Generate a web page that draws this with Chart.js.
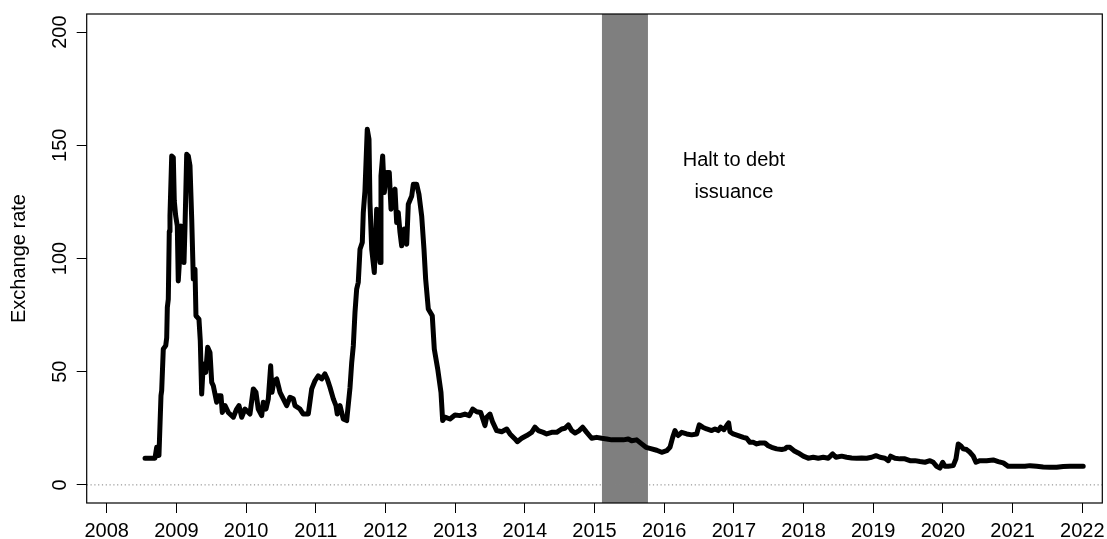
<!DOCTYPE html>
<html>
<head>
<meta charset="utf-8">
<script src="https://cdn.jsdelivr.net/npm/chart.js"></script>
<style>
  html, body { margin: 0; padding: 0; background: #ffffff; }
  #wrap { width: 1107px; height: 539px; }
</style>
</head>
<body>
<div id="wrap"><canvas id="fx" width="1107" height="539"></canvas></div>
<script>
// Exchange rate series (decimal year, rate)
const years = [
  2008.550, 2008.693, 2008.717, 2008.750, 2008.779, 2008.789, 2008.812, 2008.847, 2008.861, 2008.870,
  2008.884, 2008.898, 2008.908, 2008.933, 2008.956, 2008.970, 2008.990, 2009.013, 2009.027, 2009.052,
  2009.066, 2009.085, 2009.109, 2009.124, 2009.148, 2009.171, 2009.195, 2009.220, 2009.243, 2009.267,
  2009.281, 2009.324, 2009.343, 2009.363, 2009.386, 2009.421, 2009.449, 2009.482, 2009.507, 2009.530,
  2009.578, 2009.601, 2009.640, 2009.659, 2009.698, 2009.745, 2009.817, 2009.865, 2009.898, 2009.937,
  2009.984, 2010.056, 2010.104, 2010.142, 2010.175, 2010.224, 2010.247, 2010.286, 2010.319, 2010.353,
  2010.372, 2010.401, 2010.439, 2010.487, 2010.534, 2010.583, 2010.630, 2010.678, 2010.702, 2010.774,
  2010.821, 2010.893, 2010.942, 2010.989, 2011.036, 2011.085, 2011.132, 2011.165, 2011.204, 2011.252,
  2011.290, 2011.309, 2011.348, 2011.395, 2011.444, 2011.491, 2011.516, 2011.539, 2011.563, 2011.587,
  2011.610, 2011.635, 2011.668, 2011.682, 2011.706, 2011.739, 2011.764, 2011.778, 2011.803, 2011.840,
  2011.874, 2011.897, 2011.922, 2011.936, 2011.960, 2011.983, 2012.018, 2012.055, 2012.080, 2012.113,
  2012.137, 2012.161, 2012.184, 2012.209, 2012.233, 2012.270, 2012.305, 2012.328, 2012.377, 2012.400,
  2012.448, 2012.481, 2012.520, 2012.553, 2012.577, 2012.615, 2012.672, 2012.701, 2012.750, 2012.797,
  2012.821, 2012.854, 2012.926, 2012.998, 2013.070, 2013.141, 2013.203, 2013.252, 2013.309, 2013.367,
  2013.428, 2013.453, 2013.500, 2013.539, 2013.596, 2013.668, 2013.740, 2013.787, 2013.859, 2013.892,
  2013.955, 2014.027, 2014.098, 2014.146, 2014.193, 2014.265, 2014.314, 2014.385, 2014.457, 2014.529,
  2014.576, 2014.624, 2014.672, 2014.720, 2014.781, 2014.830, 2014.888, 2014.959, 2015.031, 2015.103,
  2015.175, 2015.246, 2015.318, 2015.413, 2015.485, 2015.533, 2015.605, 2015.677, 2015.739, 2015.820,
  2015.892, 2015.964, 2016.036, 2016.083, 2016.122, 2016.155, 2016.179, 2016.202, 2016.251, 2016.323,
  2016.394, 2016.466, 2016.503, 2016.552, 2016.610, 2016.681, 2016.729, 2016.776, 2016.810, 2016.858,
  2016.897, 2016.925, 2016.944, 2016.991, 2017.063, 2017.135, 2017.183, 2017.231, 2017.278, 2017.327,
  2017.374, 2017.446, 2017.493, 2017.542, 2017.614, 2017.686, 2017.733, 2017.758, 2017.805, 2017.862,
  2017.924, 2017.996, 2018.067, 2018.139, 2018.211, 2018.283, 2018.354, 2018.418, 2018.465, 2018.547,
  2018.618, 2018.690, 2018.762, 2018.834, 2018.905, 2018.977, 2019.039, 2019.097, 2019.168, 2019.216,
  2019.250, 2019.312, 2019.383, 2019.455, 2019.527, 2019.599, 2019.670, 2019.742, 2019.814, 2019.861,
  2019.910, 2019.957, 2019.996, 2020.029, 2020.076, 2020.148, 2020.187, 2020.220, 2020.254, 2020.292,
  2020.340, 2020.388, 2020.435, 2020.474, 2020.531, 2020.627, 2020.722, 2020.794, 2020.866, 2020.937,
  2021.009, 2021.105, 2021.177, 2021.249, 2021.345, 2021.439, 2021.536, 2021.632, 2021.726, 2021.823,
  2021.919, 2022.013
];
const rates = [
  11.8, 11.8, 16.6, 13.0, 39.4, 41.6, 60.0, 61.5, 65.0, 78.4,
  82.0, 112.0, 118.8, 145.3, 144.6, 125.4, 118.8, 114.4, 90.1, 102.7,
  114.4, 113.0, 98.2, 114.4, 146.0, 145.3, 141.0, 117.4, 90.9, 95.3,
  74.7, 73.2, 63.7, 40.1, 53.4, 49.7, 60.8, 58.5, 45.3, 43.8,
  36.5, 39.4, 39.4, 32.0, 35.0, 32.0, 29.9, 33.5, 35.0, 29.9,
  33.5, 31.3, 42.4, 40.9, 33.5, 30.6, 36.5, 33.5, 38.0, 52.6,
  40.9, 46.0, 46.8, 40.9, 38.0, 35.0, 38.7, 38.0, 35.0, 33.5,
  31.3, 31.3, 42.4, 46.0, 48.2, 46.8, 49.0, 46.8, 43.1, 38.0,
  35.0, 31.3, 35.0, 29.1, 28.4, 42.8, 54.1, 61.5, 76.2, 86.5,
  89.4, 104.1, 107.1, 120.3, 129.8, 157.1, 152.7, 124.7, 104.1, 93.8,
  121.8, 107.1, 98.2, 136.5, 145.3, 129.1, 138.0, 138.0, 121.8, 129.1,
  130.6, 115.9, 120.3, 111.5, 105.6, 113.0, 106.3, 124.0, 127.6, 132.8,
  132.8, 128.4, 118.8, 104.1, 90.9, 77.7, 74.7, 60.0, 51.2, 40.9,
  28.4, 29.9, 29.1, 30.9, 30.6, 31.3, 30.6, 33.5, 32.3, 32.0,
  26.2, 29.9, 31.3, 27.7, 24.0, 23.5, 24.7, 22.5, 20.3, 19.1,
  20.6, 21.8, 23.2, 25.5, 24.0, 23.2, 22.5, 23.2, 23.2, 24.7,
  25.0, 26.5, 24.0, 22.9, 24.0, 25.5, 23.2, 20.6, 21.0, 20.6,
  20.3, 19.9, 19.9, 19.9, 20.3, 19.5, 19.9, 18.1, 16.6, 15.9,
  15.3, 14.4, 15.1, 16.6, 21.0, 24.0, 22.5, 21.8, 23.2, 22.5,
  22.1, 22.5, 26.5, 25.5, 24.7, 24.0, 24.7, 24.0, 25.5, 24.4,
  26.2, 27.4, 23.5, 22.5, 21.8, 21.0, 20.6, 18.8, 18.8, 18.1,
  18.5, 18.5, 17.3, 16.6, 15.9, 15.6, 15.9, 16.6, 16.6, 15.1,
  14.1, 12.7, 11.8, 12.2, 11.8, 12.2, 11.8, 13.7, 12.2, 12.7,
  12.2, 11.9, 11.8, 11.9, 11.8, 12.2, 12.9, 12.2, 11.8, 10.7,
  12.7, 11.8, 11.5, 11.5, 10.7, 10.7, 10.3, 10.0, 10.7, 10.0,
  8.2, 7.4, 10.0, 8.2, 8.2, 8.5, 11.5, 18.1, 17.3, 15.9,
  15.6, 14.4, 12.7, 10.0, 10.7, 10.7, 11.0, 10.3, 9.7, 8.2,
  8.2, 8.2, 8.2, 8.5, 8.2, 7.9, 7.8, 7.8, 8.1, 8.2,
  8.2, 8.2
];

// Axis ticks
const xTickYears = [2008, 2009, 2010, 2011, 2012, 2013, 2014, 2015, 2016, 2017, 2018, 2019, 2020, 2021, 2022];
const yTickValues = [0, 50, 100, 150, 200];

// Period with no new debt issued, and its note
const haltStart = 2015.107;
const haltEnd = 2015.767;
const noteYear = 2017;
const noteRate = 135;
const noteLines = ['Halt to debt', 'issuance'];

// Reference level
const refLevel = 0;

// Axis limits (R-style 4% padding around the data ranges)
const xMin = 2007.713, xMax = 2022.287;
const yMin = -8, yMax = 208;

const FONT = '20px "Liberation Sans", Arial, Helvetica, sans-serif';

const seriesPoints = years.map((yr, i) => ({ x: yr, y: rates[i] }));
const refPoints = [{ x: xMin, y: refLevel }, { x: xMax, y: refLevel }];

// Grey band behind the series
const haltBand = {
  id: 'haltBand',
  beforeDatasetsDraw(chart) {
    const { ctx, chartArea, scales } = chart;
    const x0 = scales.x.getPixelForValue(haltStart);
    const x1 = scales.x.getPixelForValue(haltEnd);
    ctx.save();
    ctx.fillStyle = '#7f7f7f';
    ctx.fillRect(x0, chartArea.top, x1 - x0, chartArea.bottom - chartArea.top);
    ctx.restore();
  }
};

// Frame, tick labels, axis title and the note
const frameAndText = {
  id: 'frameAndText',
  afterDraw(chart) {
    const { ctx, chartArea, scales } = chart;
    ctx.save();
    ctx.strokeStyle = '#000';
    ctx.lineWidth = 1.2;
    ctx.strokeRect(chartArea.left, chartArea.top,
                   chartArea.right - chartArea.left, chartArea.bottom - chartArea.top);

    ctx.fillStyle = '#000';
    ctx.font = FONT;

    // x tick labels
    ctx.textAlign = 'center';
    ctx.textBaseline = 'alphabetic';
    scales.x.ticks.forEach(t => {
      ctx.fillText(String(t.value), scales.x.getPixelForValue(t.value), 537);
    });

    // y tick labels, rotated
    scales.y.ticks.forEach(t => {
      const py = scales.y.getPixelForValue(t.value);
      ctx.save();
      ctx.translate(66, py);
      ctx.rotate(-Math.PI / 2);
      ctx.textAlign = 'center';
      ctx.fillText(String(t.value), 0, 0);
      ctx.restore();
    });

    // y axis title
    const midY = (chartArea.top + chartArea.bottom) / 2;
    ctx.save();
    ctx.translate(25, midY);
    ctx.rotate(-Math.PI / 2);
    ctx.textAlign = 'center';
    ctx.fillText('Exchange rate', 0, 0);
    ctx.restore();

    // note beside the band
    const nx = scales.x.getPixelForValue(noteYear);
    const ny = scales.y.getPixelForValue(noteRate);
    ctx.textAlign = 'center';
    ctx.fillText(noteLines[0], nx, ny - 13.5);
    ctx.fillText(noteLines[1], nx, ny + 19);
    ctx.restore();
  }
};

new Chart(document.getElementById('fx'), {
  type: 'line',
  data: {
    datasets: [
      {
        data: refPoints,
        borderColor: '#808080',
        borderWidth: 1,
        borderDash: [1.2, 2.6],
        pointRadius: 0,
        tension: 0,
        order: 1
      },
      {
        data: seriesPoints,
        borderColor: '#000000',
        borderWidth: 5,
        borderJoinStyle: 'round',
        borderCapStyle: 'round',
        pointRadius: 0,
        tension: 0,
        fill: false,
        order: 0
      }
    ]
  },
  options: {
    responsive: false,
    devicePixelRatio: 1,
    animation: false,
    events: [],
    layout: { padding: { top: 14, right: 4.7, left: 0, bottom: 0 } },
    plugins: { legend: { display: false }, tooltip: { enabled: false } },
    scales: {
      x: {
        type: 'linear',
        min: xMin,
        max: xMax,
        afterBuildTicks: s => { s.ticks = xTickYears.map(v => ({ value: v })); },
        afterFit: s => { s.height = 36; },
        grid: { drawOnChartArea: false, drawTicks: true, tickLength: 10, color: '#000', lineWidth: 1 },
        border: { display: false },
        ticks: { display: false }
      },
      y: {
        type: 'linear',
        min: yMin,
        max: yMax,
        afterBuildTicks: s => { s.ticks = yTickValues.map(v => ({ value: v })); },
        afterFit: s => { s.width = 86.7; },
        grid: { drawOnChartArea: false, drawTicks: true, tickLength: 10, color: '#000', lineWidth: 1 },
        border: { display: false },
        ticks: { display: false }
      }
    }
  },
  plugins: [haltBand, frameAndText]
});
</script>
</body>
</html>
